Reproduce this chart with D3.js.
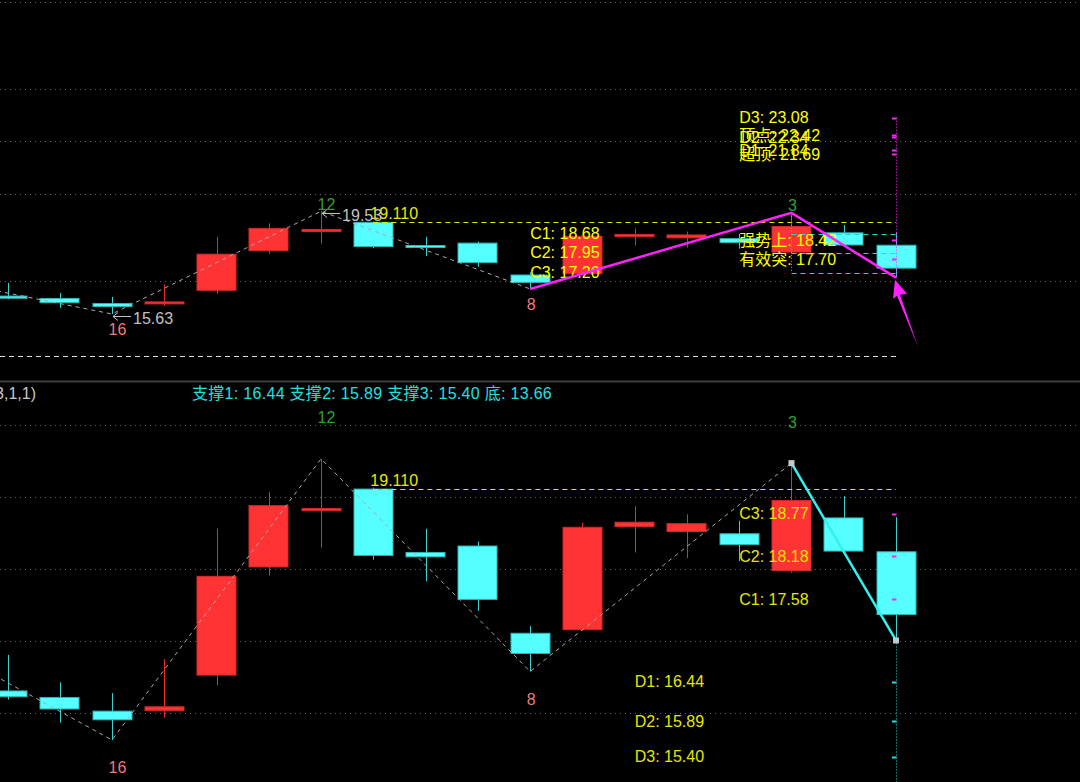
<!DOCTYPE html>
<html>
<head>
<meta charset="utf-8">
<script src="https://cdn.jsdelivr.net/npm/d3@7/dist/d3.min.js"></script>
<style>
  body { margin: 0; background: #000; overflow: hidden; }
  text { font-family: "Liberation Sans", Arial, "Noto Sans CJK SC", sans-serif; font-size: 16px; }
</style>
</head>
<body>
<div id="canvas"></div>
<script>
// daily bars, index 0..17 (left to right)
let opens  = [16.31, 16.22, 16.03, 16.04, 16.53, 18.03, 18.81, 19.11, 18.23, 18.32, 17.11, 17.16, 18.59, 18.52, 18.49, 17.98, 18.71, 18.24]
let highs  = [16.81, 16.43, 16.28, 16.75, 18.56, 19.07, 19.53, 19.13, 18.56, 18.38, 17.21, 18.64, 18.87, 18.76, 18.67, 19.47, 19.01, 18.72]
let lows   = [16.19, 15.87, 15.63, 15.94, 16.39, 17.91, 18.30, 18.13, 17.83, 17.42, 16.58, 17.16, 18.23, 18.15, 18.11, 17.95, 18.25, 17.01]
let closes = [16.23, 16.06, 15.91, 16.09, 17.90, 18.88, 18.84, 18.19, 18.17, 17.58, 16.83, 18.58, 18.65, 18.63, 18.34, 18.95, 18.25, 17.37]

// zigzag turning points
let zigIdx    = [-2, 2, 6, 10, 15]
let zigPrice  = [17.22, 15.63, 19.53, 16.58, 19.47]
let zigType   = ["hi", "lo", "hi", "lo", "hi"]
let zigCount  = ["", "16", "12", "8", "3"]
let arrowPivots = [2, 6]

// last swing (top: magenta, bottom: cyan)
let legIdx   = [10, 15, 17]
let legPrice = [16.58, 19.47, 17.01]

let refLevel  = 19.11
let baseLevel = 14.02

let topGrid    = [27.47, 24.18, 22.19, 20.18, 16.88]
let bottomGrid = [20, 19, 18, 17, 16]

let topCNames   = ["C1", "C2", "C3"]
let topCValues  = [18.68, 17.95, 17.20]
let topDNames   = ["D3", "D2", "D1"]
let topDValues  = [23.08, 22.34, 21.84]
let topMarkNames  = ["顶点", "超顶"]
let topMarkValues = [22.42, 21.69]
let strongNames  = ["强势上", "有效突"]
let strongValues = [18.42, 17.70]

let bottomCNames  = ["C3", "C2", "C1"]
let bottomCValues = [18.77, 18.18, 17.58]
let bottomDNames  = ["D1", "D2", "D3"]
let bottomDValues = [16.44, 15.89, 15.40]

let supportNames  = ["支撑1", "支撑2", "支撑3", "底"]
let supportValues = [16.44, 15.89, 15.40, 13.66]
let paramLabel = "(3,1,1)"

window.onload = function (){setup()}

function setup(){

  let svg = d3.select("#canvas")
    .append("svg")
    .attr("width", 1080)
    .attr("height", 782)
    .style("background", "#000")
    .style("display", "block")

  let x = d3.scaleLinear().domain([0, 17]).range([7.5, 896])
  let yTop = d3.scaleLinear().domain([17, 23]).range([277.9, 119.8])
  let yBottom = d3.scaleLinear().domain([16, 20]).range([713.3, 424.9])

  let bars = opens.map((o, i) => ({i: i, open: o, high: highs[i], low: lows[i], close: closes[i]}))
  let pivots = zigIdx.map((d, k) => ({i: d, price: zigPrice[k], type: zigType[k], label: zigCount[k]}))
  let leg = legIdx.map((d, k) => ({i: d, price: legPrice[k]}))

  let red = "#ff3333", cyan = "#55ffff"
  let yellow = "#ffff00", magenta = "#ff22ff"

  let defs = svg.append("defs")
  defs.append("clipPath").attr("id", "clipTop")
    .append("rect").attr("x", 0).attr("y", 0).attr("width", 1080).attr("height", 380)
  defs.append("clipPath").attr("id", "clipBottom")
    .append("rect").attr("x", 0).attr("y", 382).attr("width", 1080).attr("height", 400)

  let top = svg.append("g").attr("clip-path", "url(#clipTop)")
  let bottom = svg.append("g").attr("clip-path", "url(#clipBottom)")

  function px(v){ return Math.round(v) + 0.5 }

  function label(g, txt, tx, ty, color, anchor){
    return g.append("text")
      .attr("x", tx)
      .attr("y", ty)
      .attr("fill", color)
      .attr("text-anchor", anchor || "start")
      .attr("dominant-baseline", "central")
      .text(txt)
  }

  function drawGrid(g, y, levels){
    g.selectAll("line.grid")
      .data(levels)
      .join("line")
      .attr("class", "grid")
      .attr("x1", 0).attr("x2", 1080)
      .attr("y1", d => px(y(d))).attr("y2", d => px(y(d)))
      .attr("stroke", "#666")
      .attr("stroke-dasharray", "1,4")
  }

  function drawCandles(g, y){
    let c = g.selectAll("g.bar")
      .data(bars)
      .join("g")
      .attr("class", "bar")
    c.append("line")
      .attr("x1", d => px(x(d.i))).attr("x2", d => px(x(d.i)))
      .attr("y1", d => y(d.high)).attr("y2", d => y(d.low))
      .attr("stroke", d => d.close >= d.open ? "#e82a2a" : "#3cd2d2")
    c.append("rect")
      .attr("x", d => Math.round(x(d.i) - 19.5))
      .attr("width", 39)
      .attr("y", d => y(Math.max(d.open, d.close)))
      .attr("height", d => Math.max(2, y(Math.min(d.open, d.close)) - y(Math.max(d.open, d.close))))
      .attr("fill", d => d.close >= d.open ? red : cyan)
      .attr("stroke", d => d.close >= d.open ? "#d02a2a" : "#2fb4b4")
      .attr("stroke-width", 1)
  }

  function drawZigzag(g, y){
    let line = d3.line().x(d => x(d.i)).y(d => y(d.price))
    g.append("path")
      .attr("d", line(pivots))
      .attr("fill", "none")
      .attr("stroke", "#a8a8a8")
      .attr("stroke-dasharray", "4,4")
  }

  function drawPivotLabels(g, y, hiOff, loOff){
    pivots.filter(d => d.label != "").forEach(d => {
      let ty = d.type == "hi" ? y(d.price) - hiOff : y(d.price) + loOff
      label(g, d.label, x(d.i) - 3.5, ty, d.type == "hi" ? "#2ea02e" : "#f07a7a")
    })
  }

  function drawRefLine(g, y){
    g.append("line")
      .attr("x1", x(7)).attr("x2", x(17))
      .attr("y1", px(y(refLevel))).attr("y2", px(y(refLevel)))
      .attr("stroke", "#e8e800")
      .attr("stroke-dasharray", "5,4")
    label(g, refLevel.toFixed(3), x(7) - 3, y(refLevel) - 9, "#e8e800")
  }

  function ticks(g, y, values, color){
    g.selectAll(null)
      .data(values)
      .join("line")
      .attr("x1", x(17) - 4).attr("x2", x(17) + 0.5)
      .attr("y1", d => px(y(d))).attr("y2", d => px(y(d)))
      .attr("stroke", color)
      .attr("stroke-width", 2)
  }

  // ---------- top panel ----------
  function setupTop(){
    let y = yTop
    drawGrid(top, y, topGrid)

    top.append("line")
      .attr("x1", 0).attr("x2", x(17))
      .attr("y1", px(y(baseLevel))).attr("y2", px(y(baseLevel)))
      .attr("stroke", "#e0e0e0")
      .attr("stroke-dasharray", "5,4")

    drawCandles(top, y)
    drawZigzag(top, y)
    drawRefLine(top, y)

    // C box on the last swing
    top.selectAll(null)
      .data(topCValues)
      .join("line")
      .attr("x1", x(15)).attr("x2", x(17))
      .attr("y1", d => px(y(d))).attr("y2", d => px(y(d)))
      .attr("stroke", "#22d8d8")
      .attr("stroke-dasharray", "5,4")
    top.append("line")
      .attr("x1", px(x(15))).attr("x2", px(x(15)))
      .attr("y1", y(highs[15])).attr("y2", y(topCValues[2]))
      .attr("stroke", "#22d8d8")
      .attr("stroke-dasharray", "1,2")

    // magenta target column
    top.append("line")
      .attr("x1", px(x(17))).attr("x2", px(x(17)))
      .attr("y1", y(topDValues[0])).attr("y2", y(legPrice[2]))
      .attr("stroke", magenta)
      .attr("stroke-dasharray", "1,2")
    ticks(top, y, topDValues.concat(topMarkValues).concat(strongValues), magenta)

    drawPivotLabels(top, y, 7, 16)

    arrowPivots.forEach(i => {
      let p = pivots.find(d => d.i == i)
      let ax = x(i) + 1, ay = Math.round(y(p.price)) + 2.5
      top.append("path")
        .attr("d", `M${ax},${ay}L${ax + 5},${ay - 4}M${ax},${ay}L${ax + 5},${ay + 4}M${ax},${ay}L${ax + 18},${ay}`)
        .attr("stroke", "#c0c0c0")
        .attr("fill", "none")
      label(top, p.price.toFixed(2), ax + 20, ay + 2, "#c0c0c0")
    })

    topCNames.forEach((n, k) => label(top, n + ": " + topCValues[k].toFixed(2), x(10), y(topCValues[k]), yellow))
    strongNames.forEach((n, k) => label(top, n + ": " + strongValues[k].toFixed(2), x(14), y(strongValues[k]), yellow))
    topDNames.forEach((n, k) => label(top, n + ": " + topDValues[k].toFixed(2), x(14), y(topDValues[k]), yellow))
    topMarkNames.forEach((n, k) => label(top, n + ": " + topMarkValues[k].toFixed(2), x(14), y(topMarkValues[k]), yellow))

    // last swing
    top.append("path")
      .attr("d", d3.line().x(d => x(d.i)).y(d => y(d.price))(leg))
      .attr("fill", "none")
      .attr("stroke", magenta)
      .attr("stroke-width", 2.5)

    // pointer arrow
    let tx = x(17) - 1, ty = y(legPrice[2]) + 2
    top.append("path")
      .attr("d", `M${tx},${ty}L${tx - 2},${ty + 19}L${tx + 2},${ty + 16}L${tx + 23},${ty + 67}L${tx + 5},${ty + 15}L${tx + 12},${ty + 14}Z`)
      .attr("fill", magenta)
  }

  // ---------- bottom panel ----------
  function setupBottom(){
    let y = yBottom

    svg.append("line")
      .attr("x1", 0).attr("x2", 1080)
      .attr("y1", 381.5).attr("y2", 381.5)
      .attr("stroke", "#3c3c3c")
      .attr("stroke-width", 2)

    label(svg, paramLabel, 36, 393.5, "#c8c8c8", "end")
    label(svg, supportNames.map((n, k) => n + ": " + supportValues[k].toFixed(2)).join(" "), 192, 393.5, "#1ee0e0")
      .attr("letter-spacing", 0.3)

    drawGrid(bottom, y, bottomGrid)
    drawCandles(bottom, y)
    drawZigzag(bottom, y)
    drawRefLine(bottom, y)
    drawPivotLabels(bottom, y, 41, 28)

    bottomCNames.forEach((n, k) => label(bottom, n + ": " + bottomCValues[k].toFixed(2), x(14), y(bottomCValues[k]), "#e6e600"))
    bottomDNames.forEach((n, k) => label(bottom, n + ": " + bottomDValues[k].toFixed(2), x(12), y(bottomDValues[k]), "#e6e600"))

    bottom.append("line")
      .attr("x1", px(x(17))).attr("x2", px(x(17)))
      .attr("y1", y(legPrice[2])).attr("y2", 782)
      .attr("stroke", "#22d8d8")
      .attr("stroke-dasharray", "1,2")
    ticks(bottom, y, bottomDValues, "#22d8d8")
    ticks(bottom, y, bottomCValues, magenta)

    let last = leg.slice(1)
    bottom.append("path")
      .attr("d", d3.line().x(d => x(d.i)).y(d => y(d.price))(last))
      .attr("fill", "none")
      .attr("stroke", "#33f0f0")
      .attr("stroke-width", 2.5)
    bottom.selectAll("rect.mark")
      .data(last)
      .join("rect")
      .attr("class", "mark")
      .attr("x", d => x(d.i) - 3)
      .attr("y", d => y(d.price) - 3)
      .attr("width", 6)
      .attr("height", 6)
      .attr("fill", "#c8c8c8")
  }

  setupTop()
  setupBottom()
}
</script>
</body>
</html>
